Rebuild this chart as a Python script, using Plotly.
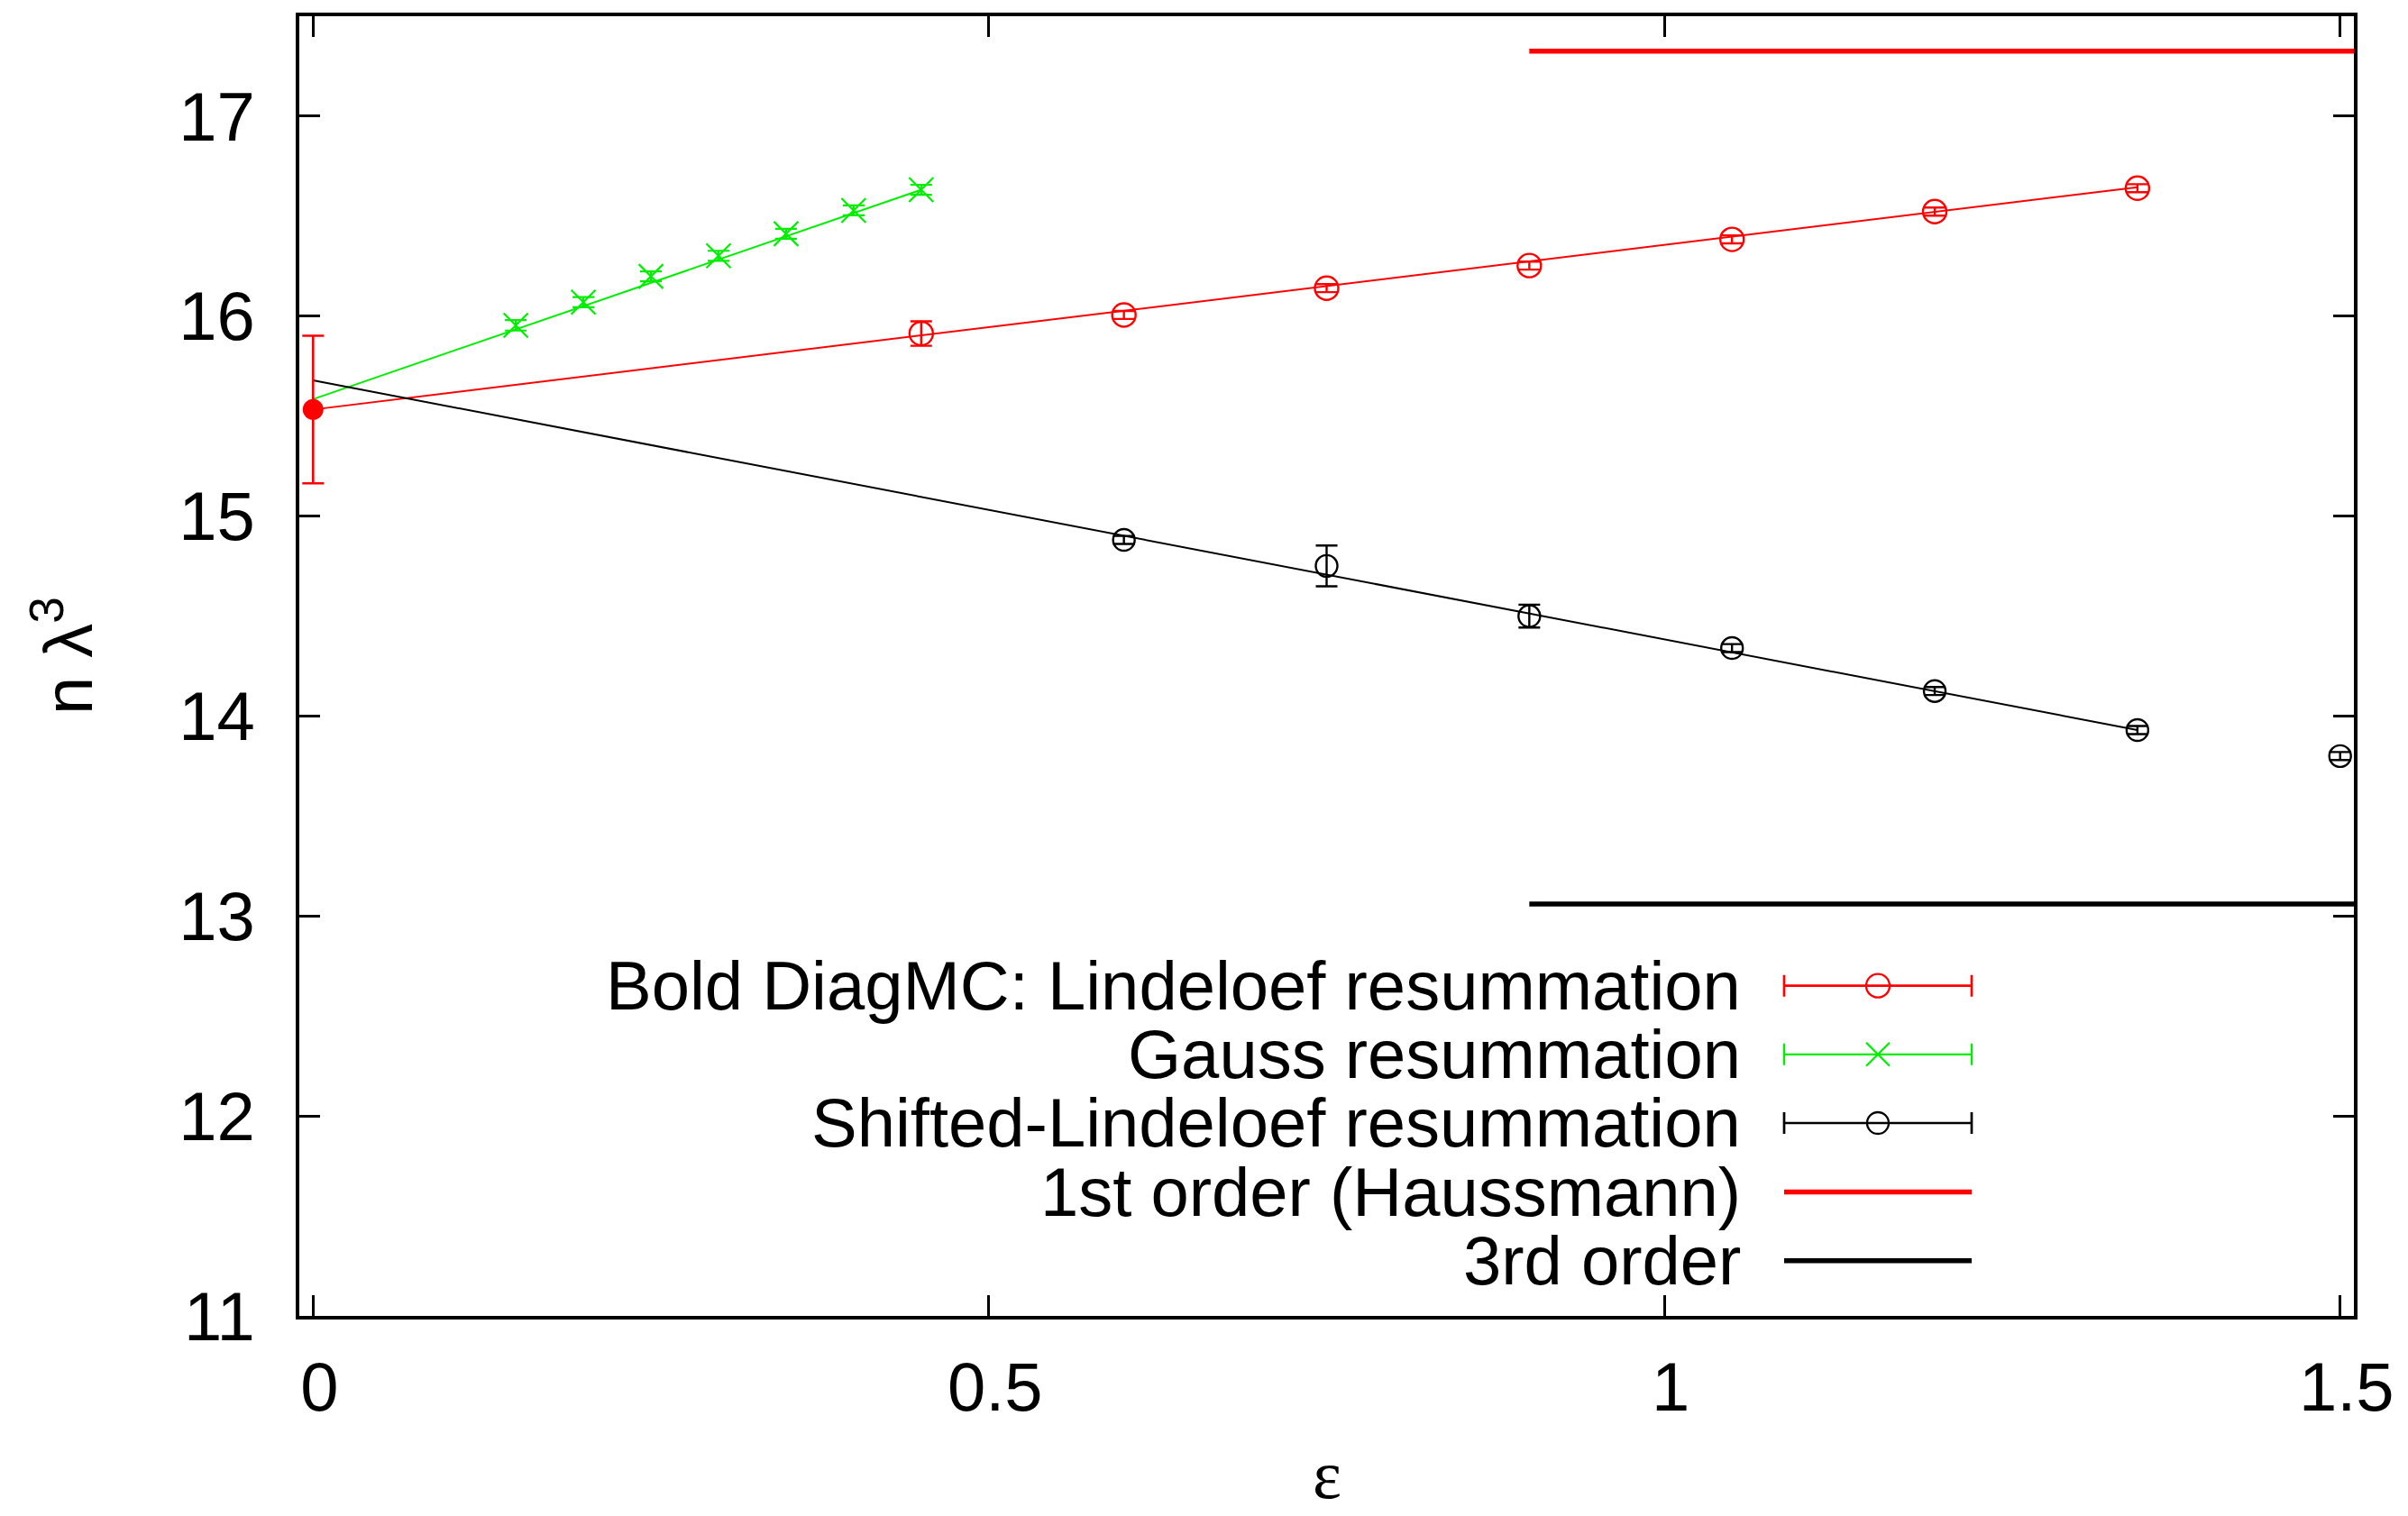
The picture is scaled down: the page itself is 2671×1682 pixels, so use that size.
import plotly.graph_objects as go

# ---------------- data ----------------
lind_x = [0.45, 0.60, 0.75, 0.90, 1.05, 1.20, 1.35]
lind_y = [15.913, 16.006, 16.140, 16.253, 16.384, 16.523, 16.640]
lind_err = [0.061, 0.02, 0.02, 0.02, 0.02, 0.02, 0.02]

gauss_x = [0.15, 0.20, 0.25, 0.30, 0.35, 0.40, 0.45]
gauss_y = [15.954, 16.070, 16.199, 16.302, 16.412, 16.529, 16.632]
gauss_err = [0.026, 0.025, 0.025, 0.025, 0.025, 0.025, 0.025]

shift_x = [0.60, 0.75, 0.90, 1.05, 1.20, 1.35, 1.50]
shift_y = [14.881, 14.751, 14.500, 14.340, 14.125, 13.930, 13.800]
shift_err = [0.02, 0.102, 0.057, 0.02, 0.02, 0.02, 0.02]

# fitted/extrapolation lines (eps -> 0)
lind_fit_x = [0.0, 1.35]
lind_fit_y = [15.533, 16.645]
gauss_fit_x = [0.0, 0.45]
gauss_fit_y = [15.585, 16.632]
shift_fit_x = [0.0, 1.35]
shift_fit_y = [15.679, 13.930]

# extrapolated result
extrap_x = [0.0]
extrap_y = [15.533]
extrap_err = [0.369]

# reference orders
order_x = [0.9, 1.52]
first_order_y = 17.325
third_order_y = 13.06

legend_labels = [
    "Bold DiagMC: Lindeloef resummation",
    "Gauss resummation",
    "Shifted-Lindeloef resummation",
    "1st order (Haussmann)",
    "3rd order",
]

x_ticks = [0, 0.5, 1, 1.5]
x_ticktext = ["0", "0.5", "1", "1.5"]
y_ticks = [11, 12, 13, 14, 15, 16, 17]

# ---------------- style ----------------
RED = "#ff0000"
GREEN = "#00ee00"
BLACK = "#000000"
FONT = "Liberation Sans"
FS = 76

OFF = 8                      # default page (body) margin of the html page
W, H = 2671 - OFF, 1682 - OFF
L, R, T, B = 332, 2611, 14, 1460   # plot area in page pixels

fig = go.Figure()

# fit lines
fig.add_trace(go.Scatter(x=lind_fit_x, y=lind_fit_y, mode="lines",
                         line=dict(color=RED, width=2), showlegend=False))
fig.add_trace(go.Scatter(x=gauss_fit_x, y=gauss_fit_y, mode="lines",
                         line=dict(color=GREEN, width=2), showlegend=False))
fig.add_trace(go.Scatter(x=shift_fit_x, y=shift_fit_y, mode="lines",
                         line=dict(color=BLACK, width=2), showlegend=False))

# order lines
fig.add_trace(go.Scatter(x=order_x, y=[first_order_y] * len(order_x), mode="lines",
                         line=dict(color=RED, width=5.5), showlegend=False))
fig.add_trace(go.Scatter(x=order_x, y=[third_order_y] * len(order_x), mode="lines",
                         line=dict(color=BLACK, width=5.5), showlegend=False))

# data points with error bars
fig.add_trace(go.Scatter(
    x=lind_x, y=lind_y, mode="markers",
    marker=dict(symbol="circle-open", size=26, color=RED, line=dict(width=2.4, color=RED)),
    error_y=dict(type="data", array=lind_err, color=RED, thickness=2.4, width=12),
    showlegend=False))
fig.add_trace(go.Scatter(
    x=gauss_x, y=gauss_y, mode="markers",
    marker=dict(symbol="x-thin-open", size=27, color=GREEN, line=dict(width=2.2, color=GREEN)),
    error_y=dict(type="data", array=gauss_err, color=GREEN, thickness=2.2, width=12),
    showlegend=False))
fig.add_trace(go.Scatter(
    x=shift_x, y=shift_y, mode="markers",
    marker=dict(symbol="circle-open", size=24, color=BLACK, line=dict(width=2.4, color=BLACK)),
    error_y=dict(type="data", array=shift_err, color=BLACK, thickness=2.4, width=12),
    showlegend=False))
fig.add_trace(go.Scatter(
    x=extrap_x, y=extrap_y, mode="markers",
    marker=dict(symbol="circle", size=23, color=RED),
    error_y=dict(type="data", array=extrap_err, color=RED, thickness=2.6, width=12),
    showlegend=False, cliponaxis=False))

# ---------------- custom gnuplot-style key (overlay axes in plot fractions) ----------------
def fx(px):
    return (px - L) / (R - L)

def fy(py):
    return (B - py) / (B - T)

row_py = [1092.7, 1169.0, 1245.4, 1322.0, 1398.5]
s0, s1 = fx(1979), fx(2187)
sc = (s0 + s1) / 2
sh = (s1 - s0) / 2
text_x = fx(1933)

samples = [
    dict(color=RED, symbol="circle-open", size=26, err=True, lw=2.7),
    dict(color=GREEN, symbol="x-thin-open", size=26, err=True, lw=2.3),
    dict(color=BLACK, symbol="circle-open", size=24, err=True, lw=2.7),
    dict(color=RED, symbol=None, err=False, lw=5.5),
    dict(color=BLACK, symbol=None, err=False, lw=5.5),
]
for lab, py, s in zip(legend_labels, row_py, samples):
    yy = fy(py)
    if s["err"]:
        fig.add_trace(go.Scatter(
            x=[sc], y=[yy], mode="markers", xaxis="x2", yaxis="y2",
            marker=dict(symbol=s["symbol"], size=s["size"], color=s["color"],
                        line=dict(width=2.3, color=s["color"])),
            error_x=dict(type="data", array=[sh], color=s["color"], thickness=s["lw"], width=12),
            showlegend=False))
    else:
        fig.add_trace(go.Scatter(
            x=[s0, s1], y=[yy, yy], mode="lines", xaxis="x2", yaxis="y2",
            line=dict(color=s["color"], width=s["lw"]), showlegend=False))
    fig.add_annotation(x=text_x, y=yy, xref="paper", yref="paper", text=lab,
                       showarrow=False, xanchor="right", yanchor="middle",
                       font=dict(family=FONT, size=FS, color="black"))

# axis titles
fig.add_annotation(x=0.5, y=fy(1681), xref="paper", yref="paper", text="ε",
                   showarrow=False, xanchor="center", yanchor="bottom",
                   font=dict(family="Liberation Serif", size=FS, color="black"))
fig.add_annotation(x=fx(70), y=fy(726), xref="paper", yref="paper",
                   text="n λ<sup>3</sup>", textangle=-90,
                   showarrow=False, xanchor="center", yanchor="middle",
                   font=dict(family=FONT, size=FS, color="black"))

axis_common = dict(
    showline=True, linecolor="black", linewidth=4, mirror="allticks",
    ticks="inside", ticklen=23, tickwidth=2.5, tickcolor="black",
    showgrid=False, zeroline=False,
    tickfont=dict(family=FONT, size=FS, color="black"),
)

fig.update_layout(
    width=W, height=H,
    margin=dict(l=L - OFF, r=W + OFF - R, t=T - OFF, b=H + OFF - B, pad=0),
    paper_bgcolor="white", plot_bgcolor="white",
    showlegend=False,
    xaxis=dict(range=[-0.0102, 1.5102], tickvals=x_ticks, ticktext=x_ticktext,
               ticklabelstandoff=10, ticklabelshift=7, **axis_common),
    yaxis=dict(range=[11, 17.5], tickvals=y_ticks, ticklabelstandoff=30, **axis_common),
    xaxis2=dict(range=[0, 1], overlaying="x", visible=False, anchor="y2"),
    yaxis2=dict(range=[0, 1], overlaying="y", visible=False, anchor="x2"),
)

fig.write_html("out.html")
